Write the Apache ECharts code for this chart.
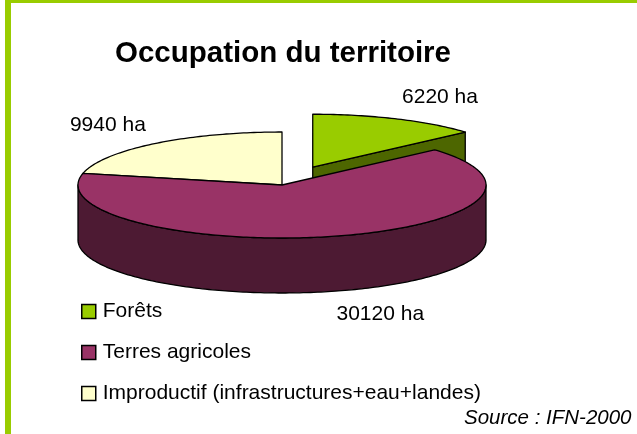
<!DOCTYPE html>
<html lang="fr">
<head>
    <meta charset="UTF-8">
    <title>index</title>
    <script src="https://cdn.jsdelivr.net/npm/echarts@6/dist/echarts.min.js"></script>
    <style>
        html, body { margin: 0; padding: 0; background: #fff; }
        #main { width: 637px; height: 434px; }
    </style>
</head>
<body>
<div id="main"></div>
<script>
    // données
    var categories = ['Forêts', 'Terres agricoles', 'Improductif (infrastructures+eau+landes)'];
    var values = [6220, 30120, 9940];
    var unit = ' ha';

    // couleurs (dessus / côté)
    var topColors = ['#99CC00', '#993366', '#FFFFCC'];
    var sideColors = ['#4D6600', '#4D1A33', '#80805F'];
    var explode = [75, 0, 0];

    // géométrie du camembert 3D
    var CX = 282, CY = 185, RX = 204, RY = 53, DEPTH = 55;
    var RAD = Math.PI / 180;
    var FONT = '"Liberation Sans", Arial, sans-serif';

    var total = values.reduce(function (a, b) { return a + b; }, 0);
    var starts = [];
    var acc = 0;
    values.forEach(function (v) { starts.push(acc / total * 360); acc += v; });

    function pt(cx, cy, deg, dy) {
        return [cx + RX * Math.sin(deg * RAD), cy - RY * Math.cos(deg * RAD) + (dy || 0)];
    }

    function arc(cx, cy, a0, a1, dy) {
        var pts = [];
        var n = Math.max(2, Math.ceil(a1 - a0));
        for (var i = 0; i <= n; i++) {
            pts.push(pt(cx, cy, a0 + (a1 - a0) * i / n, dy));
        }
        return pts;
    }

    function renderSlice(idx) {
        return function (params, api) {
            var v = api.value(0);
            var a0 = starts[idx];
            var a1 = a0 + v / total * 360;
            var mid = (a0 + a1) / 2 * RAD;
            var cx = CX + explode[idx] * Math.sin(mid);
            var cy = CY - explode[idx] * Math.cos(mid) * RY / RX;
            var edge = { stroke: '#000', lineWidth: 1.3, lineJoin: 'round' };
            var children = [];

            // paroi extérieure (partie avant seulement)
            var w0 = Math.max(a0, 90), w1 = Math.min(a1, 270);
            if (w1 > w0) {
                var top = arc(cx, cy, w0, w1, 0);
                var bot = arc(cx, cy, w0, w1, DEPTH).reverse();
                children.push({
                    type: 'polygon',
                    shape: { points: top.concat(bot) },
                    style: Object.assign({ fill: sideColors[idx] }, edge)
                });
            }

            // faces de coupe visibles
            [[a0, Math.sin(a0 * RAD) < -1e-6], [a1, Math.sin(a1 * RAD) > 1e-6]].forEach(function (f) {
                if (!f[1]) return;
                var p = pt(cx, cy, f[0]);
                children.push({
                    type: 'polygon',
                    shape: { points: [[cx, cy], p, [p[0], p[1] + DEPTH], [cx, cy + DEPTH]] },
                    style: Object.assign({ fill: sideColors[idx] }, edge)
                });
            });

            // dessus
            children.push({
                type: 'polygon',
                shape: { points: [[cx, cy]].concat(arc(cx, cy, a0, a1, 0)) },
                style: Object.assign({ fill: topColors[idx] }, edge)
            });

            // étiquette
            var s = Math.sin(mid), c = Math.cos(mid);
            children.push({
                type: 'text',
                x: cx + (RX + 14) * s,
                y: cy - (RY + 24) * c + (c < 0 ? DEPTH : 0),
                style: {
                    text: v + unit,
                    fill: '#000',
                    font: '21px ' + FONT,
                    align: s >= 0 ? 'left' : 'right',
                    verticalAlign: 'middle'
                }
            });

            return { type: 'group', children: children };
        };
    }

    // ordre de dessin : arrière vers avant
    var zOrder = [2, 3, 1];
    var series = categories.map(function (name, i) {
        return {
            name: name,
            type: 'custom',
            coordinateSystem: 'none',
            z: zOrder[i],
            itemStyle: { color: topColors[i] },
            renderItem: renderSlice(i),
            data: [[values[i]]]
        };
    });

    var chart = echarts.init(document.getElementById('main'));
    chart.setOption({
        animation: false,
        backgroundColor: '#fff',
        title: {
            text: 'Occupation du territoire',
            left: 110,
            top: 34,
            textStyle: { fontSize: 29.5, fontWeight: 'bold', color: '#000', fontFamily: FONT }
        },
        legend: {
            orient: 'vertical',
            left: 76,
            top: 296,
            icon: 'rect',
            itemWidth: 14,
            itemHeight: 14,
            itemGap: 20,
            selectedMode: false,
            data: categories,
            itemStyle: { borderColor: '#000', borderWidth: 1.5 },
            textStyle: { fontSize: 21, color: '#000', fontFamily: FONT, padding: [0, 0, 0, 2] }
        },
        graphic: [
            { type: 'rect', left: 5, top: 0, shape: { width: 6, height: 434 }, style: { fill: '#99CC00' } },
            { type: 'rect', left: 5, top: 0, shape: { width: 632, height: 3 }, style: { fill: '#99CC00' } },
            {
                type: 'text', left: 464, top: 408,
                style: { text: 'Source : IFN-2000', fill: '#000', font: 'italic 20.5px ' + FONT }
            }
        ],
        series: series
    });
</script>
</body>
</html>
